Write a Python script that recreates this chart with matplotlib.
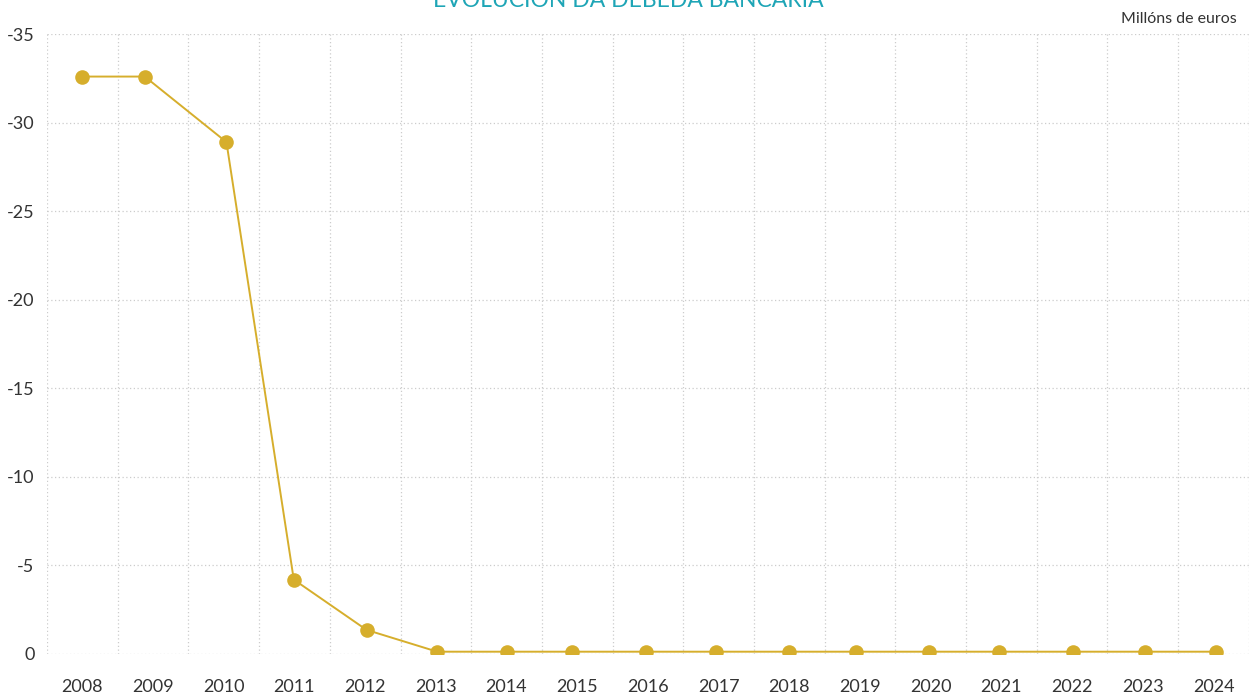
import numpy as np
import matplotlib.pyplot as plt

plt.rcParams['font.family'] = ['Lato', 'DejaVu Sans']
plt.rcParams['axes.unicode_minus'] = False

# data (millóns de euros)
fechas = ['2008-06-28', '2009-05-20', '2010-07-16', '2011-06-29', '2012-07-09',
          '2013-07-09', '2014-07-05', '2015-06-06', '2016-06-20', '2017-06-17',
          '2018-07-02', '2019-06-10', '2020-06-23', '2021-06-21', '2022-07-09',
          '2023-07-16', '2024-07-16']
debeda = [-32.6, -32.6, -28.9, -4.2, -1.36,
          -0.13, -0.13, -0.13, -0.13, -0.13,
          -0.13, -0.13, -0.13, -0.13, -0.13,
          -0.13, -0.13]
anos = list(range(2008, 2025))
y_ticks = [-35, -30, -25, -20, -15, -10, -5, 0]

x = np.array(fechas, dtype='datetime64[D]')
limites = np.array(['%d-01-01' % a for a in anos + [2025]], dtype='datetime64[D]')
centros = np.array(['%d-07-02' % a for a in anos], dtype='datetime64[D]')

fig = plt.figure(figsize=(12.57, 6.95), dpi=100)
ax = fig.add_axes([0.0374, 0.059, 0.9562, 0.892])

ax.plot(x, debeda, color='#d6ae2c', lw=1.4, marker='o', markersize=10.5,
        markeredgewidth=0, zorder=3)

ax.set_xlim(limites[0], limites[-1])
ax.set_ylim(0, -35)

ax.set_xticks(limites)
ax.set_xticklabels([])
ax.set_xticks(centros, minor=True)
ax.set_xticklabels([str(a) for a in anos], minor=True)
ax.set_yticks(y_ticks)
ax.set_yticklabels([str(v) for v in y_ticks])

ax.tick_params(axis='both', which='both', length=0, colors='#333333', labelsize=13)
ax.tick_params(axis='x', which='minor', pad=18)
ax.tick_params(axis='y', pad=9)

ax.grid(True, which='major', color='#cccccc', linestyle=(0, (1, 2)), lw=0.9)
for s in ax.spines.values():
    s.set_visible(False)

fig.text(0.5, 0.99, 'EVOLUCIÓN DA DÉBEDA BANCARIA', ha='center', va='baseline',
         color='#1ea5b6', fontsize=16.5)
fig.text(0.984, 0.967, 'Millóns de euros', ha='right', va='baseline',
         color='#333333', fontsize=11.5)

plt.savefig('out.png', dpi=100)
